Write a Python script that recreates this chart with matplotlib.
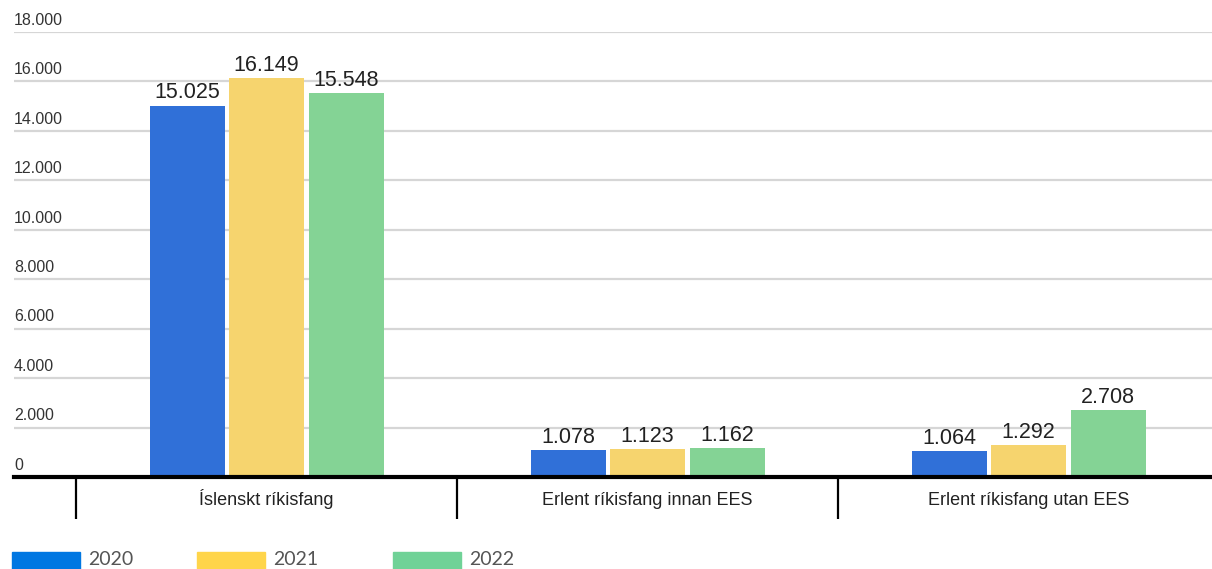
import numpy as np
import matplotlib.pyplot as plt
from matplotlib.patches import Rectangle
from matplotlib.transforms import blended_transform_factory, offset_copy

categories = ["Íslenskt ríkisfang", "Erlent ríkisfang innan EES", "Erlent ríkisfang utan EES"]
years = ["2020", "2021", "2022"]
values_2020 = [15025, 1078, 1064]
values_2021 = [16149, 1123, 1292]
values_2022 = [15548, 1162, 2708]
y_ticks = [0, 2000, 4000, 6000, 8000, 10000, 12000, 14000, 16000, 18000]

BAR_COLORS = ["#3070d8", "#f6d46e", "#84d395"]
LEGEND_COLORS = ["#0077e2", "#ffd54a", "#70d297"]

W, H = 1212, 569


def fmt(v):
    # Icelandic thousands separator
    return f"{v:,}".replace(",", ".")


fig = plt.figure(figsize=(W / 100, H / 100), dpi=100)
plt.rcParams["font.family"] = ["Liberation Sans", "DejaVu Sans"]

left_px, right_px, top_px, base_px = 14, 1212, 32, 477
ax = fig.add_axes([left_px / W, 1 - base_px / H, (right_px - left_px) / W, (base_px - top_px) / H])

cat_px = 381.0
x = np.arange(len(categories))
bar_w = 75 / cat_px
step = 79.5 / cat_px
series = [values_2020, values_2021, values_2022]
for i, (vals, col) in enumerate(zip(series, BAR_COLORS)):
    xs = x + (i - 1) * step
    ax.bar(xs, vals, width=bar_w, color=col, zorder=3)
    for xi, v in zip(xs, vals):
        ax.text(xi, v, fmt(v), ha="center", va="bottom", fontsize=15.5,
                color="#222222", zorder=4,
                transform=offset_copy(ax.transData, fig=fig, y=1.5, units="points"))

# grid lines
for t in y_ticks[1:]:
    ax.axhline(t, color="#d6d6d6", lw=1.6, zorder=1)

# tick labels sit above their grid lines
trans = blended_transform_factory(ax.transAxes, ax.transData)
trans = offset_copy(trans, fig=fig, y=3, units="points")
for t in y_ticks:
    ax.text(0, t, fmt(t), ha="left", va="bottom", fontsize=11.5, color="#333333",
            transform=trans)

for s in ["top", "right", "left"]:
    ax.spines[s].set_visible(False)
ax.spines["bottom"].set_linewidth(3)
ax.spines["bottom"].set_color("black")
ax.spines["bottom"].set_zorder(5)

ax.set_yticks([])
ax.set_xticks(x)
ax.set_xticklabels([])
ax.tick_params(axis="x", which="major", length=0)
ax.set_xticks(np.arange(len(categories) + 1) - 0.5, minor=True)
ax.tick_params(axis="x", which="minor", length=30, width=1.6, color="black")

# category names on a common baseline below the axis
ctrans = offset_copy(ax.get_xaxis_transform(), fig=fig, y=-20.5, units="points")
for xi, name in zip(x, categories):
    ax.text(xi, 0, name, ha="center", va="baseline", fontsize=13, color="#222222",
            transform=ctrans, clip_on=False)

ax.set_xlim(-0.5 - (76 - left_px) / cat_px, 2.5 - (1219 - right_px) / cat_px)
ax.set_ylim(0, 18000)

# legend along the bottom edge
leg_x = [12, 197, 393]
for lx, yr, col in zip(leg_x, years, LEGEND_COLORS):
    fig.patches.append(Rectangle((lx / W, 0), 68 / W, 17 / H, transform=fig.transFigure,
                                 color=col, figure=fig))
    fig.text((lx + 76) / W, 1 / H, yr, fontsize=14, color="#555555", family="Lato",
             ha="left", va="bottom")

fig.savefig("out.png", dpi=100)
